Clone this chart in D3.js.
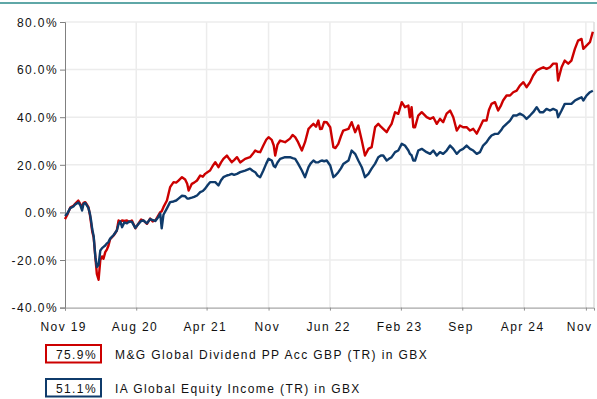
<!DOCTYPE html>
<html>
<head>
<meta charset="utf-8">
<script src="https://cdn.jsdelivr.net/npm/d3@7"></script>
<style>
  html, body { margin: 0; padding: 0; background: #fff; }
  svg { display: block; }
  text { font-family: "Liberation Sans", Arial, sans-serif; font-size: 12px; letter-spacing: 1.4px; fill: #111; }
</style>
</head>
<body>
<svg id="chart" width="597" height="399"></svg>
<script>
// Cumulative total return (%) over the period
const dates = [
  "2019-11-29","2019-12-07","2019-12-17","2019-12-28","2020-01-03","2020-01-14","2020-01-21","2020-01-27",
  "2020-02-01","2020-02-07","2020-02-14","2020-02-18","2020-02-23","2020-02-27","2020-03-02","2020-03-07",
  "2020-03-13","2020-03-18","2020-03-24","2020-03-30","2020-04-05","2020-04-10","2020-04-16","2020-04-22",
  "2020-04-27","2020-05-03","2020-05-15","2020-05-26","2020-06-01","2020-06-07","2020-06-13","2020-06-21",
  "2020-06-30","2020-07-08","2020-07-17","2020-07-29","2020-08-09","2020-08-18","2020-08-26","2020-09-07",
  "2020-09-18","2020-09-27","2020-10-06","2020-10-17","2020-10-23","2020-10-28","2020-11-03","2020-11-15",
  "2020-11-26","2020-12-08","2020-12-17","2020-12-25","2021-01-06","2021-01-17","2021-01-24","2021-01-29",
  "2021-02-03","2021-02-09","2021-02-17","2021-02-27","2021-03-10","2021-03-19","2021-03-27","2021-04-05",
  "2021-04-13","2021-04-22","2021-05-01","2021-05-12","2021-05-21","2021-05-29","2021-06-10","2021-06-18",
  "2021-06-27","2021-07-05","2021-07-15","2021-07-26","2021-08-12","2021-08-29","2021-09-07","2021-09-16",
  "2021-09-24","2021-10-03","2021-10-14","2021-10-24","2021-11-01","2021-11-12","2021-11-19","2021-11-24",
  "2021-12-02","2021-12-11","2021-12-28","2022-01-14","2022-01-23","2022-02-01","2022-02-11","2022-02-24",
  "2022-03-07","2022-03-19","2022-03-26","2022-04-05","2022-04-14","2022-04-22","2022-04-28","2022-05-04",
  "2022-05-12","2022-05-21","2022-06-02","2022-06-13","2022-06-20","2022-06-30","2022-07-09","2022-07-17",
  "2022-08-04","2022-08-15","2022-08-27","2022-09-07","2022-09-19","2022-09-30","2022-10-12","2022-10-23",
  "2022-11-04","2022-11-15","2022-11-24","2022-12-02","2022-12-14","2022-12-22","2022-12-31","2023-01-12",
  "2023-01-23","2023-02-04","2023-02-15","2023-02-27","2023-03-04","2023-03-10","2023-03-16","2023-03-22",
  "2023-04-02","2023-04-14","2023-05-01","2023-05-13","2023-05-24","2023-06-05","2023-06-16","2023-06-27",
  "2023-07-09","2023-07-21","2023-08-01","2023-08-13","2023-08-24","2023-09-04","2023-09-16","2023-09-28",
  "2023-10-09","2023-10-21","2023-11-01","2023-11-12","2023-11-24","2023-12-02","2023-12-11","2023-12-23",
  "2024-01-03","2024-01-13","2024-01-20","2024-02-01","2024-02-13","2024-02-24","2024-03-07","2024-03-18",
  "2024-03-30","2024-04-10","2024-04-22","2024-05-03","2024-05-15","2024-05-26","2024-06-07","2024-06-18",
  "2024-06-30","2024-07-11","2024-07-23","2024-07-28","2024-08-09","2024-08-20","2024-09-01","2024-09-12",
  "2024-09-24","2024-10-05","2024-10-17","2024-10-23","2024-11-03","2024-11-15","2024-11-25"
];

// M&G Global Dividend PP Acc GBP (TR) in GBX
const fundValues = [
  -2.8,-1.0,2.0,2.8,3.6,5.0,3.5,2.0,
  4.0,4.3,3.0,2.2,-1.0,-4.5,-8.0,-10.5,
  -19.0,-25.8,-28.3,-20.0,-18.5,-19.5,-16.7,-15.5,
  -14.0,-11.2,-9.7,-7.6,-3.4,-4.0,-3.4,-3.6,
  -3.4,-4.0,-3.4,-6.7,-4.6,-3.0,-3.4,-4.8,
  -2.6,-3.8,-3.4,-1.1,0.1,0.5,2.2,5.0,
  10.6,12.7,12.5,13.4,14.8,13.8,12.0,9.2,
  10.5,12.0,12.5,13.4,15.5,15.0,16.2,17.0,
  17.6,19.5,21.1,19.0,21.0,22.5,23.9,22.5,
  21.1,22.0,23.2,21.0,22.5,23.2,24.5,26.0,
  25.5,25.3,28.1,30.5,31.6,30.5,28.1,23.9,
  28.5,30.2,29.5,31.0,32.5,31.6,29.5,26.0,
  29.5,35.1,36.0,37.2,36.0,38.6,35.0,35.1,
  38.0,37.9,35.8,27.4,27.0,28.8,32.0,34.4,
  35.1,37.9,33.7,36.5,30.2,23.9,26.7,27.4,
  35.8,37.2,36.0,35.1,33.7,35.5,37.2,42.1,
  41.4,46.3,44.2,44.9,40.0,44.2,35.8,35.8,
  40.7,42.1,40.0,39.3,40.0,37.2,39.3,37.9,
  41.5,42.8,40.0,34.4,36.5,35.8,35.8,34.4,
  35.1,33.1,35.8,38.6,38.6,43.0,45.6,46.3,
  42.8,45.0,47.0,49.1,49.1,50.5,51.2,53.3,
  54.7,52.6,54.7,57.5,59.6,60.3,61.0,60.3,
  61.0,62.5,62.5,55.4,61.0,63.8,62.5,63.8,
  68.7,72.2,72.9,68.7,70.1,71.5,75.9
];

// IA Global Equity Income (TR) in GBX
const sectorValues = [
  -1.5,-0.5,1.8,2.5,3.3,4.2,3.0,0.8,
  3.6,4.0,2.6,1.8,-0.5,-3.4,-7.0,-10.0,
  -18.8,-23.0,-22.0,-16.0,-15.0,-14.5,-13.9,-13.0,
  -12.5,-11.0,-9.5,-7.6,-5.0,-3.8,-6.2,-4.2,
  -4.6,-3.8,-4.0,-6.5,-4.8,-3.6,-3.4,-4.6,
  -2.8,-3.2,-3.6,-1.8,-0.5,-6.7,-1.0,1.7,
  4.3,4.6,5.0,5.8,7.0,6.8,5.8,5.8,
  6.0,6.2,6.5,7.1,8.5,9.0,10.0,11.5,
  12.7,12.7,12.7,11.3,13.5,14.8,15.5,15.8,
  16.2,15.8,16.2,16.9,17.6,18.4,17.5,16.9,
  15.5,14.8,17.6,20.5,22.5,21.8,19.5,19.0,
  21.0,22.5,23.2,23.2,22.8,22.5,20.5,17.6,
  14.8,19.0,20.5,21.8,21.0,21.1,21.5,21.8,
  21.5,21.8,19.7,14.8,15.5,16.9,18.5,20.3,
  21.8,26.0,24.6,21.8,19.0,14.8,16.2,18.4,
  20.5,23.2,23.9,23.9,21.8,22.5,23.2,25.3,
  26.0,28.8,28.1,26.0,24.6,24.0,21.8,21.8,
  26.0,26.7,25.3,24.6,26.0,23.9,25.3,24.6,
  26.0,28.1,26.7,24.6,26.0,26.7,28.1,26.7,
  26.0,24.6,25.3,28.1,29.5,31.0,32.3,33.0,
  33.0,34.5,35.8,37.2,38.6,40.7,40.7,41.5,
  40.7,39.3,40.7,42.1,44.2,42.1,42.1,43.5,
  42.8,43.5,42.8,40.0,42.8,45.6,45.6,45.6,
  47.0,47.7,48.4,47.0,49.1,50.5,51.1
];

const seriesNames = ["M&G Global Dividend PP Acc GBP (TR) in GBX", "IA Global Equity Income (TR) in GBX"];
const seriesColors = ["#cc0000", "#0f3b6b"];

const tickDates = ["2019-11-29","2020-08-01","2021-04-01","2021-11-01","2022-06-01","2023-02-01","2023-09-01","2024-04-01","2024-11-01"];
const tickLabels = ["Nov 19","Aug 20","Apr 21","Nov","Jun 22","Feb 23","Sep","Apr 24","Nov"];
const yTicks = [-40, -20, 0, 20, 40, 60, 80];

const parse = d3.utcParse("%Y-%m-%d");
const svg = d3.select("#chart");

const plot = { left: 65, right: 594, top: 22, bottom: 307.6 };

const x = d3.scaleUtc()
  .domain([parse("2019-11-29"), parse("2024-11-29")])
  .range([plot.left, plot.right]);
const y = d3.scaleLinear()
  .domain([-40, 80])
  .range([plot.bottom, plot.top]);

// teal rule across the top
svg.append("rect").attr("x", 0).attr("y", 2).attr("width", 597).attr("height", 2).attr("fill", "#5fa7a7");

// grid
const grid = svg.append("g").attr("stroke", "#ececec").attr("stroke-width", 1.5);
grid.selectAll("line.h").data(yTicks.filter(v => v !== -40)).join("line")
  .attr("x1", plot.left).attr("x2", plot.right)
  .attr("y1", d => y(d)).attr("y2", d => y(d));
grid.selectAll("line.v").data(tickDates.slice(1)).join("line")
  .attr("x1", d => x(parse(d))).attr("x2", d => x(parse(d)))
  .attr("y1", plot.top).attr("y2", plot.bottom);
// right border of the plot
svg.append("line").attr("x1", plot.right).attr("x2", plot.right)
  .attr("y1", plot.top).attr("y2", plot.bottom)
  .attr("stroke", "#dcdcdc").attr("stroke-width", 1.5);

// axes
const yAxis = svg.append("g")
  .attr("transform", `translate(${plot.left},0)`)
  .call(d3.axisLeft(y).tickValues(yTicks).tickSize(5).tickPadding(2)
    .tickFormat(d => d.toFixed(1) + "%"));
yAxis.select(".domain").attr("stroke", "#808080");
yAxis.selectAll(".tick line").attr("stroke", "#808080");
yAxis.selectAll("text").attr("font-size", null).attr("font-family", null).attr("dy", "0.36em");

const xAxis = svg.append("g")
  .attr("transform", `translate(0,${plot.bottom})`)
  .call(d3.axisBottom(x).tickValues(tickDates.map(parse)).tickSize(3).tickPadding(12)
    .tickFormat((d, i) => tickLabels[i]));
xAxis.select(".domain").attr("stroke", "#909090");
xAxis.selectAll(".tick line").attr("stroke", "#909090");
xAxis.selectAll("text").attr("font-size", null).attr("font-family", null).attr("dx", -1.8);
xAxis.selectAll(".tick").filter((d, i) => i === tickDates.length - 1)
  .select("text").attr("text-anchor", "end").attr("dx", 6);

// lines
const rows = dates.map((d, i) => ({ date: parse(d), fund: fundValues[i], sector: sectorValues[i] }));
const lineFor = key => d3.line().x(d => x(d.date)).y(d => y(d[key]));

svg.append("path").datum(rows)
  .attr("fill", "none").attr("stroke", seriesColors[0]).attr("stroke-width", 2.4)
  .attr("stroke-linejoin", "round").attr("d", lineFor("fund"));
svg.append("path").datum(rows)
  .attr("fill", "none").attr("stroke", seriesColors[1]).attr("stroke-width", 2.4)
  .attr("stroke-linejoin", "round").attr("d", lineFor("sector"));

// legend
const finals = [fundValues[fundValues.length - 1], sectorValues[sectorValues.length - 1]];
const legend = svg.append("g");
const rowsY = [345, 379];
seriesNames.forEach((name, i) => {
  const g = legend.append("g").attr("transform", `translate(0,${rowsY[i]})`);
  g.append("rect").attr("x", 46).attr("y", 0).attr("width", 55).attr("height", 17.5)
    .attr("fill", "#fff").attr("stroke", seriesColors[i]).attr("stroke-width", 2);
  g.append("text").attr("x", 97).attr("y", 14).attr("text-anchor", "end")
    .text(finals[i].toFixed(1) + "%");
  g.append("text").attr("x", 115).attr("y", 14).text(name);
});
</script>
</body>
</html>
